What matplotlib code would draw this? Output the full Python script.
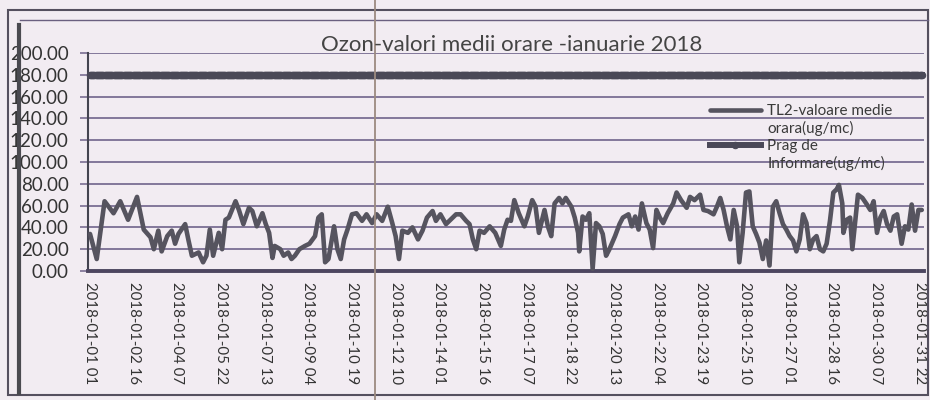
import matplotlib
matplotlib.use("Agg")
import matplotlib.pyplot as plt
import pandas as pd
from matplotlib.lines import Line2D
from matplotlib.patches import Rectangle

plt.rcParams['font.family'] = ['Lato', 'DejaVu Sans']

# ---- data (hour index from 2018-01-01 01:00, hourly ozone values ug/mc) ----
hours = [0, 6, 13, 21, 27, 34, 42, 48, 54, 57, 61, 64, 69, 73, 76, 79, 85, 88, 91, 97,
         101, 104, 107, 110, 115, 118, 121, 124, 130, 133, 137, 142, 145, 149, 154, 157,
         160, 163, 165, 170, 173, 177, 180, 183, 187, 192, 196, 201, 204, 207, 210, 213,
         218, 221, 224, 227, 230, 234, 238, 243, 247, 252, 256, 261, 266, 270, 273, 276,
         279, 284, 288, 293, 297, 301, 306, 309, 313, 318, 322, 327, 331, 336, 339, 342,
         345, 348, 352, 357, 362, 367, 370, 373, 376, 379, 383, 388, 391, 395, 398, 401,
         406, 409, 412, 415, 419, 422, 425, 430, 433, 436, 437, 440, 443, 446, 449, 452,
         455, 458, 461, 464, 469, 473, 476, 481, 484, 487, 490, 493, 497, 500, 503, 506,
         509, 512, 516, 521, 524, 528, 533, 536, 540, 545, 548, 552, 557, 560, 563, 566,
         569, 572, 575, 578, 580, 583, 586, 589, 592, 595, 598, 601, 604, 607, 610, 613,
         616, 619, 622, 625, 628, 631, 634, 637, 640, 643, 646, 649, 652, 655, 658, 661,
         664, 667, 669, 672, 673, 676, 679, 681, 684, 686, 690, 694, 697, 700, 703, 706,
         709, 712, 715, 718, 721, 725, 728, 731, 734, 737, 740, 743]
ozone = [34, 11, 64, 53, 64, 47, 68, 38, 31, 20, 37, 18, 32, 37, 25, 34, 43, 28, 14, 17,
         8, 14, 38, 14, 35, 20, 47, 49, 64, 56, 43, 58, 55, 41, 53, 43,
         35, 12, 23, 20, 14, 17, 11, 14, 20, 23, 25, 32, 49, 52, 8, 11,
         41, 20, 11, 29, 38, 52, 53, 46, 52, 44, 52, 46, 59, 44, 32, 11,
         37, 35, 40, 29, 37, 49, 55, 46, 52, 43, 47, 52, 52, 46, 43, 29,
         20, 37, 35, 41, 35, 23, 38, 47, 46, 65, 53, 41, 50, 65, 59, 35,
         56, 41, 32, 62, 67, 62, 67, 59, 49, 35, 18, 50, 47, 53, 2, 44,
         41, 34, 14, 20, 32, 43, 49, 52, 41, 50, 38, 62, 44, 38, 21, 56,
         49, 44, 53, 62, 72, 65, 58, 68, 65, 70, 56, 55, 52, 59, 67, 56,
         41, 29, 56, 41, 8, 35, 72, 73, 41, 34, 26, 11, 28, 5, 59, 64,
         53, 43, 38, 32, 28, 18, 29, 52, 44, 20, 29, 32, 20, 18, 25, 46,
         72, 75, 79, 62, 35, 47, 49, 20, 50, 70, 67, 61, 56, 64, 35, 49,
         55, 43, 37, 50, 52, 25, 41, 38, 61, 37, 56, 56]
n_hours = 744
threshold_value = 180
label_step = 39
series_names = [['TL2-valoare medie', 'orara(ug/mc)'], ['Prag de', 'Informare(ug/mc)']]
title = 'Ozon-valori medii orare -ianuarie 2018'

times = pd.date_range('2018-01-01 01:00', periods=n_hours, freq='h')
all_hours = list(range(n_hours))
threshold = [threshold_value] * n_hours
tick_pos = list(range(0, n_hours - 1, label_step))
tick_labels = [times[i].strftime('%Y-%m-%d %H') for i in tick_pos]

W, H = 930, 400
bg = '#f2ecf2'
fig = plt.figure(figsize=(W / 100, H / 100), dpi=100)
fig.patch.set_facecolor(bg)

ax = fig.add_axes([88 / W, 1 - 271 / H, 836 / W, 218 / H])
ax.set_facecolor(bg)

l1, = ax.plot(hours, ozone, color='#56545f', lw=3.3, solid_joinstyle='round',
              solid_capstyle='round', zorder=3)
l2, = ax.plot(all_hours, threshold, color='#4a4857', lw=4.3, marker='o', ms=4.6, mew=0.8,
              zorder=3, clip_on=False)

ax.set_xlim(-1.8, 745)
ax.set_ylim(0, 200)
ax.set_yticks(range(0, 201, 20))
ax.set_yticklabels([f'{v:.2f}' for v in range(0, 201, 20)], fontsize=13.5, color='#333333')
ax.yaxis.grid(True, color='#7a6e93', lw=1.3)
ax.set_axisbelow(True)
ax.tick_params(axis='y', length=6, width=1.2, color='#7a6e93', pad=8)

ax.set_xticks(tick_pos)
ax.set_xticklabels(tick_labels, rotation=-90, fontsize=10.8, color='#333333')
ax.tick_params(axis='x', length=0, pad=8)

for s in ['top', 'right']:
    ax.spines[s].set_visible(False)
ax.spines['left'].set_color('#444450')
ax.spines['left'].set_linewidth(1.5)
ax.spines['bottom'].set_color('#4d4660')
ax.spines['bottom'].set_linewidth(2.8)

# legend: line sample next to the first line of each (wrapped) series name
blank = Line2D([], [], linestyle='none')
leg_handles = [l1, blank, l2, blank]
leg_labels = [series_names[0][0], series_names[0][1], series_names[1][0], series_names[1][1]]
leg = ax.legend(leg_handles, leg_labels, loc='upper left',
                bbox_to_anchor=((704 - 88) / 836, (271 - 98) / 218),
                frameon=False, fontsize=11, handlelength=3.3, handletextpad=0.45,
                labelspacing=0.2, borderaxespad=0)
for t in leg.get_texts():
    t.set_color('#3a3a3a')

fig.text(512 / W, 1 - 45 / H, title, ha='center', va='center', fontsize=16, color='#444444')

# chart frame
fig.add_artist(Rectangle((8 / W, 5 / H), 920 / W, 385 / H, transform=fig.transFigure,
                         fill=False, ec='#55505f', lw=1.5))
fig.add_artist(Line2D([19 / W, 19 / W], [7 / H, 1 - 25 / H], transform=fig.transFigure,
                      color='#4a4a50', lw=3))
fig.add_artist(Line2D([20 / W, 928 / W], [1 - 20 / H, 1 - 20 / H], transform=fig.transFigure,
                      color='#6a6080', lw=1))
fig.add_artist(Line2D([375 / W, 375 / W], [0, 1], transform=fig.transFigure,
                      color='#9c8a80', lw=1.3))

fig.savefig('out.png', dpi=100, facecolor=bg)
